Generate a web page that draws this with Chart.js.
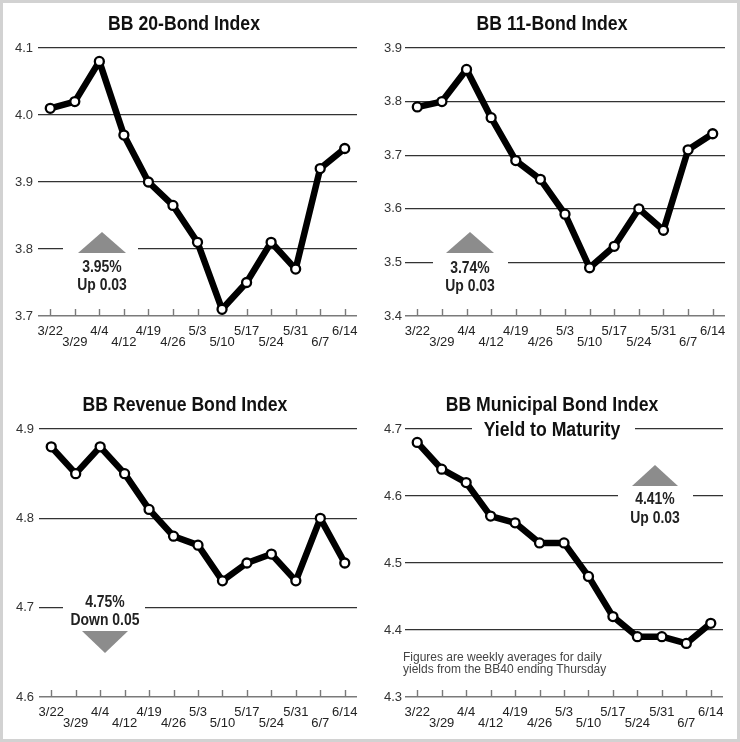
<!DOCTYPE html>
<html>
<head>
<meta charset="utf-8">
<script src="https://cdn.jsdelivr.net/npm/chart.js@4.4.1/dist/chart.umd.min.js"></script>
<style>
  body { margin: 0; background: #fff; }
  #wrap { position: relative; width: 740px; height: 742px; overflow: hidden; }
  #frame { position: absolute; left: 0; top: 0; width: 740px; height: 742px; box-sizing: border-box; border: 3px solid #d2d2d2; pointer-events: none; }
  canvas { position: absolute; }
  .t { position: absolute; line-height: 1; white-space: nowrap; font-family: "Liberation Sans", Arial, sans-serif; }
  .title { font-weight: bold; font-size: 21px; color: #111; transform: translate(-50%, -50%) scaleX(0.84); }
  .ann { font-weight: bold; font-size: 17px; color: #222; transform: translate(-50%, -50%) scaleX(0.82); }
  .note { position: absolute; font-family: "Liberation Sans", sans-serif; font-size: 12px; line-height: 12px; color: #444; white-space: nowrap; }
</style>
</head>
<body>
<div id="wrap">
  <canvas id="c1" width="370" height="371" style="left:0;top:0"></canvas>
  <canvas id="c2" width="370" height="371" style="left:370px;top:0"></canvas>
  <canvas id="c3" width="370" height="371" style="left:0;top:371px"></canvas>
  <canvas id="c4" width="370" height="371" style="left:370px;top:371px"></canvas>

  <div class="t title" style="left:184px;top:22px">BB 20-Bond Index</div>
  <div class="t title" style="left:552px;top:22px">BB 11-Bond Index</div>
  <div class="t title" style="left:185px;top:403px">BB Revenue Bond Index</div>
  <div class="t title" style="left:552px;top:403px">BB Municipal Bond Index</div>
  <div class="t title" style="left:552px;top:428px">Yield to Maturity</div>

  <div class="t ann" style="left:102px;top:266px">3.95%</div>
  <div class="t ann" style="left:102px;top:284px">Up 0.03</div>
  <div class="t ann" style="left:470px;top:267px">3.74%</div>
  <div class="t ann" style="left:470px;top:285px">Up 0.03</div>
  <div class="t ann" style="left:105px;top:601px">4.75%</div>
  <div class="t ann" style="left:105px;top:619px">Down 0.05</div>
  <div class="t ann" style="left:655px;top:498px">4.41%</div>
  <div class="t ann" style="left:655px;top:517px">Up 0.03</div>

  <div class="note" style="left:403px;top:651px">Figures are weekly averages for daily<br>yields from the BB40 ending Thursday</div>

  <div id="frame"></div>
</div>
<script>
const weeks = ['3/22', '3/29', '4/4', '4/12', '4/19', '4/26', '5/3', '5/10', '5/17', '5/24', '5/31', '6/7', '6/14'];

const bond20 = [4.01, 4.02, 4.08, 3.97, 3.90, 3.865, 3.81, 3.71, 3.75, 3.81, 3.77, 3.92, 3.95];
const bond11 = [3.79, 3.80, 3.86, 3.77, 3.69, 3.655, 3.59, 3.49, 3.53, 3.60, 3.56, 3.71, 3.74];
const revenue = [4.88, 4.85, 4.88, 4.85, 4.81, 4.78, 4.77, 4.73, 4.75, 4.76, 4.73, 4.80, 4.75];
const municipal = [4.68, 4.64, 4.62, 4.57, 4.56, 4.53, 4.53, 4.48, 4.42, 4.39, 4.39, 4.38, 4.41];

const tickFont = '"Liberation Sans", Arial, sans-serif';

// small tick marks on the baseline, white gaps in gridlines, the up/down arrow
const decor = {
  id: 'decor',
  beforeDatasetsDraw(chart, args, opts) {
    const ctx = chart.ctx;
    const area = chart.chartArea;
    const xs = chart.scales.x;
    const ys = chart.scales.y;
    ctx.save();
    ctx.fillStyle = '#fff';
    (opts.gaps || []).forEach(g => {
      const py = ys.getPixelForValue(g.value);
      ctx.fillRect(g.from, py - 2, g.to - g.from, 4);
    });
    ctx.strokeStyle = '#7a7a7a';
    ctx.lineWidth = 1.4;
    ctx.beginPath();
    weeks.forEach((w, i) => {
      const px = Math.round(xs.getPixelForTick(i)) + 0.5;
      ctx.moveTo(px, area.bottom);
      ctx.lineTo(px, area.bottom - 7);
    });
    ctx.stroke();
    const a = opts.arrow;
    if (a) {
      ctx.fillStyle = '#8c8c8c';
      ctx.beginPath();
      ctx.moveTo(a.x - a.half, a.base);
      ctx.lineTo(a.x + a.half, a.base);
      ctx.lineTo(a.x, a.tip);
      ctx.closePath();
      ctx.fill();
    }
    ctx.restore();
  }
};

function makeChart(id, values, yMin, yMax, box, yPad, decorOpts) {
  const isBase = v => Math.abs(v - yMin) < 1e-6;
  return new Chart(document.getElementById(id), {
    type: 'line',
    data: {
      labels: weeks,
      datasets: [{
        data: values,
        borderColor: '#000',
        borderWidth: 6.5,
        borderJoinStyle: 'round',
        tension: 0,
        pointRadius: 4.5,
        pointBorderWidth: 2.3,
        pointBackgroundColor: '#fff',
        pointBorderColor: '#000',
        clip: false
      }]
    },
    options: {
      responsive: false,
      animation: false,
      layout: { padding: { left: 0, top: box.top, right: 370 - box.right, bottom: 0 } },
      plugins: {
        legend: { display: false },
        tooltip: { enabled: false },
        decor: decorOpts
      },
      scales: {
        x: {
          offset: true,
          grid: { display: false, drawTicks: false },
          border: { display: false },
          ticks: {
            autoSkip: false, maxRotation: 0, minRotation: 0, padding: 10,
            color: '#222',
            font: { family: tickFont, size: 13, lineHeight: 0.85 },
            callback: (v, i) => i % 2 ? ['', weeks[i]] : weeks[i]
          },
          afterFit: s => { s.height = 371 - box.bottom; }
        },
        y: {
          min: yMin, max: yMax,
          border: { display: false },
          grid: {
            drawTicks: false,
            color: c => isBase(c.tick.value) ? '#7a7a7a' : '#333',
            lineWidth: c => isBase(c.tick.value) ? 1.6 : 1.2
          },
          ticks: {
            stepSize: 0.1, padding: yPad, color: '#333',
            font: { family: tickFont, size: 13 },
            callback: v => v.toFixed(1)
          },
          afterFit: s => { s.width = box.left; }
        }
      }
    },
    plugins: [decor]
  });
}

makeChart('c1', bond20, 3.7, 4.1, { left: 38, right: 357, top: 48, bottom: 316 }, 5, {
  gaps: [{ value: 3.8, from: 63, to: 138 }],
  arrow: { x: 102, half: 24, base: 253, tip: 232 }
});
makeChart('c2', bond11, 3.4, 3.9, { left: 35, right: 355, top: 48, bottom: 316 }, 3, {
  gaps: [{ value: 3.5, from: 63, to: 138 }],
  arrow: { x: 100, half: 24, base: 253, tip: 232 }
});
makeChart('c3', revenue, 4.6, 4.9, { left: 39, right: 357, top: 58, bottom: 326 }, 5, {
  gaps: [{ value: 4.7, from: 63, to: 145 }],
  arrow: { x: 105, half: 23, base: 260, tip: 282 }
});
makeChart('c4', municipal, 4.3, 4.7, { left: 35, right: 353, top: 58, bottom: 326 }, 3, {
  gaps: [{ value: 4.7, from: 102, to: 265 }, { value: 4.6, from: 248, to: 323 }],
  arrow: { x: 285, half: 23, base: 115, tip: 94 }
});
</script>
</body>
</html>
